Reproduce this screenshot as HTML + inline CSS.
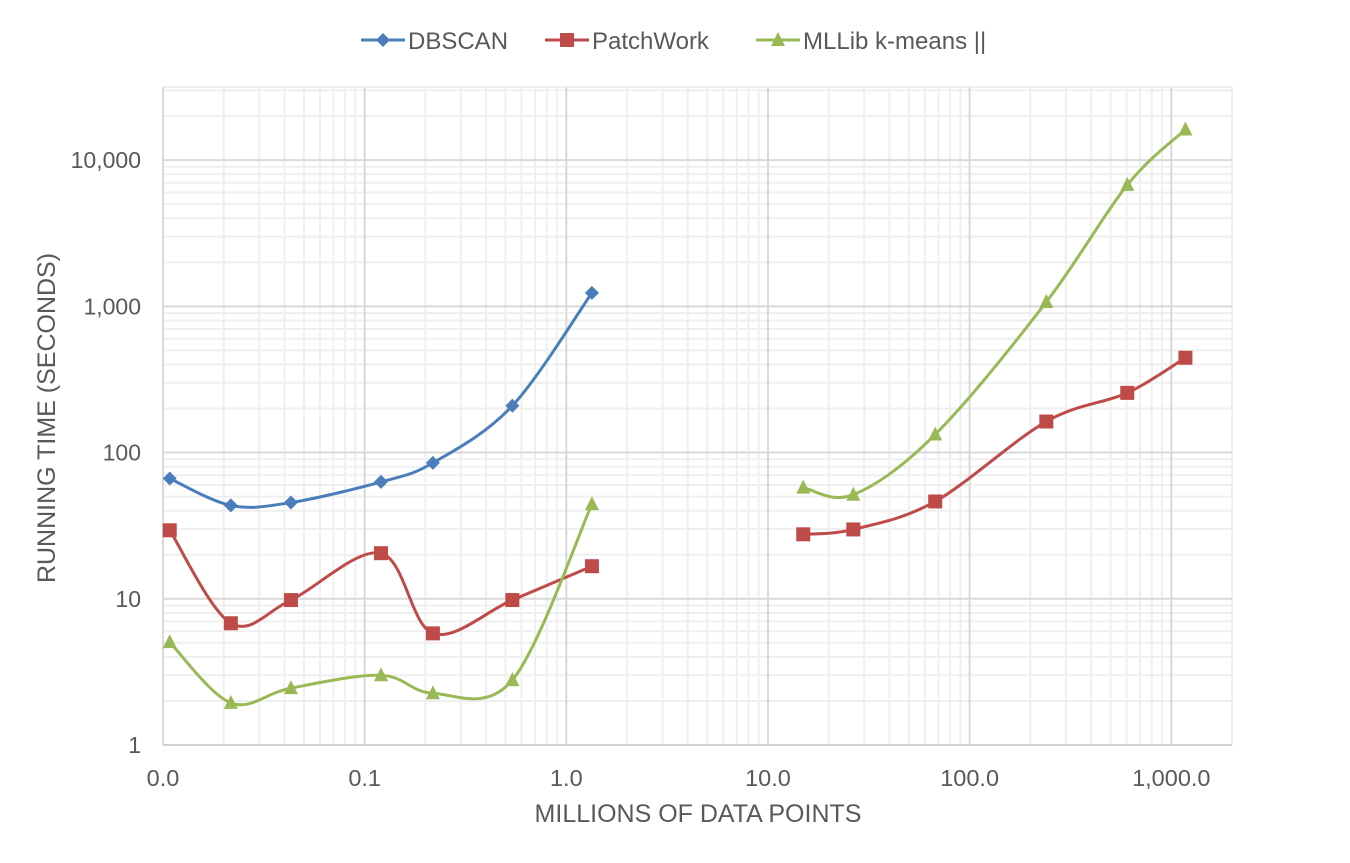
<!DOCTYPE html>
<html><head><meta charset="utf-8"><style>
body{margin:0;background:#fff}
svg text{font-family:"Liberation Sans",sans-serif;fill:#595959}
</style></head><body>
<svg id="chart" width="1350" height="858" xmlns="http://www.w3.org/2000/svg">
<g id="grid"></g>
<g id="axes"></g>
<g id="series"></g>
<text transform="translate(55,418) rotate(-90)" text-anchor="middle" font-size="25">RUNNING TIME (SECONDS)</text>
<text x="698" y="822" text-anchor="middle" font-size="25">MILLIONS OF DATA POINTS</text>
<g id="legend"></g>
</svg>
<script>
const xTickValues=[0.01,0.1,1,10,100,1000];
const xTickLabels=["0.0","0.1","1.0","10.0","100.0","1,000.0"];
const yTickValues=[1,10,100,1000,10000];
const yTickLabels=["1","10","100","1,000","10,000"];
const seriesNames=["DBSCAN","PatchWork","MLLib k-means ||"];
const dbscanX=[0.0108,0.0217,0.0431,0.1205,0.218,0.54,1.34];
const dbscanY=[66.5,43.5,45.5,63,85,209,1237];
const patchX=[0.0108,0.0217,0.0431,0.1205,0.218,0.54,1.34,14.96,26.5,67.5,240,605,1175];
const patchY=[29.4,6.8,9.8,20.5,5.8,9.8,16.7,27.6,29.8,46.3,163,256,445];
const mllibX=[0.0108,0.0217,0.0431,0.1205,0.218,0.54,1.34,14.96,26.5,67.5,240,605,1175];
const mllibY=[5.05,1.94,2.45,3.0,2.26,2.78,44.4,57.6,51.5,133,1071,6770,16180];

const NS="http://www.w3.org/2000/svg";
const L=163,R=1232,T=87,B=745;
const xMin=0.01,xMax=2000,yMin=1,yMax=Math.pow(10,4.5);
const X=v=>L+(Math.log10(v)-Math.log10(xMin))/(Math.log10(xMax)-Math.log10(xMin))*(R-L);
const Y=v=>B-(Math.log10(v)-Math.log10(yMin))/(Math.log10(yMax)-Math.log10(yMin))*(B-T);
function mk(tag,attrs,parent){const e=document.createElementNS(NS,tag);for(const k in attrs)e.setAttribute(k,attrs[k]);parent.appendChild(e);return e;}
const grid=document.getElementById('grid'),axes=document.getElementById('axes'),ser=document.getElementById('series'),leg=document.getElementById('legend');
for(let d=-2;d<=3;d++)for(let m=2;m<=9;m++){const v=m*Math.pow(10,d);if(v>xMax)break;const x=X(v);
const l=mk('line',{x1:x,x2:x,y1:T,y2:B,stroke:'#efefef','stroke-width':2},grid);
}
for(let d=0;d<=4;d++)for(let m=2;m<=9;m++){const v=m*Math.pow(10,d);if(v>yMax)break;const y=Y(v);
const l=mk('line',{x1:L,x2:R,y1:y,y2:y,stroke:'#efefef','stroke-width':2},grid);
}
mk('line',{x1:L,x2:R,y1:T,y2:T,stroke:'#efefef','stroke-width':2},grid);
mk('line',{x1:R,x2:R,y1:T,y2:B,stroke:'#efefef','stroke-width':2},grid);
xTickValues.forEach((v,i)=>{const x=X(v);
const l=mk('line',{x1:x,x2:x,y1:T,y2:B,stroke:'#d9d9d9','stroke-width':2},grid);

const t=mk('text',{x:x,y:B+41,'text-anchor':'middle','font-size':23.5},axes);t.textContent=xTickLabels[i];
});
yTickValues.forEach((v,i)=>{const y=Y(v);
const l=mk('line',{x1:L,x2:R,y1:y,y2:y,stroke:'#d9d9d9','stroke-width':2},grid);

const t=mk('text',{x:L-22,y:y+8,'text-anchor':'end','font-size':23},axes);t.textContent=yTickLabels[i];
});
mk('line',{x1:L,x2:R,y1:B,y2:B,stroke:'#d0d0d0','stroke-width':2},axes);
function smooth(pts){let d=`M${pts[0][0]},${pts[0][1]}`;
for(let i=0;i<pts.length-1;i++){const p0=pts[i-1]||pts[i],p1=pts[i],p2=pts[i+1],p3=pts[i+2]||p2;
const c1=[p1[0]+(p2[0]-p0[0])/6,p1[1]+(p2[1]-p0[1])/6],c2=[p2[0]-(p3[0]-p1[0])/6,p2[1]-(p3[1]-p1[1])/6];
d+=` C${c1[0]},${c1[1]} ${c2[0]},${c2[1]} ${p2[0]},${p2[1]}`;}return d;}
function marker(shape,x,y,c,g){let e;
if(shape==='d')e=mk('polygon',{points:`${x},${y-7} ${x+7},${y} ${x},${y+7} ${x-7},${y}`,fill:c},g);
else if(shape==='s')e=mk('rect',{x:x-7,y:y-7,width:14,height:14,fill:c},g);
else e=mk('polygon',{points:`${x},${y-8} ${x+7},${y+6} ${x-7},${y+6}`,fill:c},g);
}
const defs=[[dbscanX,dbscanY,'#4a7ebb','d',[[0,7]]],[patchX,patchY,'#be4b48','s',[[0,7],[7,13]]],[mllibX,mllibY,'#98b954','t',[[0,7],[7,13]]]];
defs.forEach((s,k)=>{const g=mk('g',{},ser);
s[4].forEach(([a,b])=>{const pts=[];for(let i=a;i<b&&i<s[0].length;i++)pts.push([X(s[0][i]),Y(s[1][i])]);
const p=mk('path',{d:smooth(pts),fill:'none',stroke:s[2],'stroke-width':3},g);
});
s[0].forEach((v,i)=>marker(s[3],X(v),Y(s[1][i]),s[2],g));});
const lx=[361,545,756];
defs.forEach((s,k)=>{const g=mk('g',{},leg);
mk('line',{x1:lx[k],x2:lx[k]+44,y1:40,y2:40,stroke:s[2],'stroke-width':3},g);
marker(s[3],lx[k]+22,40,s[2],g);
const t=mk('text',{x:lx[k]+47,y:49,'font-size':24},g);t.textContent=seriesNames[k];});
</script>
</body></html>
